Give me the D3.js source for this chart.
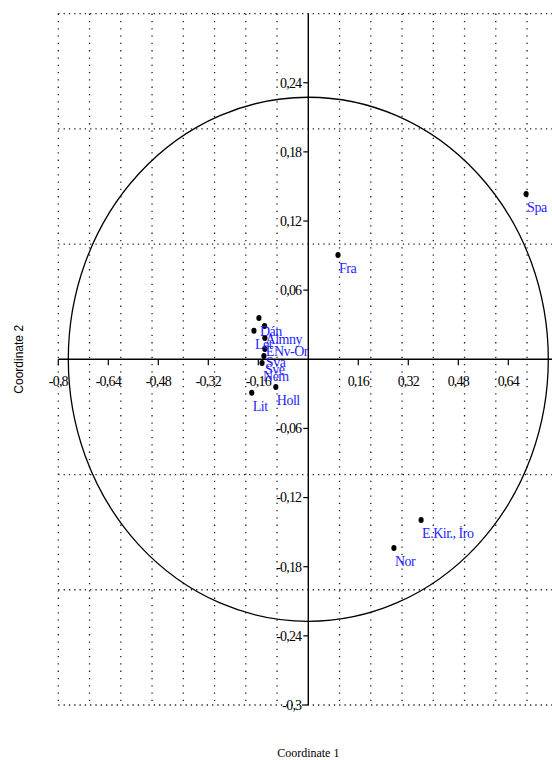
<!DOCTYPE html>
<html>
<head>
<meta charset="utf-8">
<script src="https://cdn.jsdelivr.net/npm/d3@7"></script>
<style>
  html, body { margin: 0; padding: 0; background: #fff; }
  svg { display: block; }
</style>
</head>
<body>
<svg id="chart" width="552" height="760"></svg>
<script>
// ---- data ----
const labels = ["Spa", "Fra", "E.Kir., İro", "Nor", "Dán", "Almny", "Let", "ENv-Or", "Sva", "Sve", "Nem", "Holl", "Lit"];
const coord1 = [0.697, 0.095, 0.361, 0.274, -0.158, -0.140, -0.174, -0.139, -0.139, -0.142, -0.148, -0.104, -0.181];
const coord2 = [0.1434, 0.0906, -0.1394, -0.1637, 0.0358, 0.0289, 0.0248, 0.0185, 0.0089, 0.0029, -0.0032, -0.024, -0.029];
const xTicks = [-0.8, -0.64, -0.48, -0.32, -0.16, 0.16, 0.32, 0.48, 0.64];
const yTicks = [0.24, 0.18, 0.12, 0.06, -0.06, -0.12, -0.18, -0.24, -0.3];
const xGrid = [-0.8, -0.7, -0.6, -0.5, -0.4, -0.3, -0.2, -0.1, 0.1, 0.2, 0.3, 0.4, 0.5, 0.6, 0.7];
const yGrid = [0.3, 0.2, 0.1, -0.1, -0.2, -0.3];
const ellipseRx = 0.768, ellipseRy = 0.2274;

const svg = d3.select("#chart");
const x = d3.scaleLinear().domain([-0.8, 0.8]).range([58.3, 558.3]);
const y = d3.scaleLinear().domain([-0.3, 0.3]).range([705, 13.6]);
const fmt = v => String(+v.toFixed(2)).replace(".", ",");

// grid
const g = svg.append("g");
g.selectAll("line.vg").data(xGrid).enter().append("line")
  .attr("x1", d => x(d)).attr("x2", d => x(d))
  .attr("y1", y(0.3)).attr("y2", y(-0.3))
  .attr("stroke", "#222").attr("stroke-width", 1.3).attr("stroke-dasharray", "1.3,6");
g.selectAll("line.hg").data(yGrid).enter().append("line")
  .attr("x1", x(-0.8)).attr("x2", 552)
  .attr("y1", d => y(d)).attr("y2", d => y(d))
  .attr("stroke", "#222").attr("stroke-width", 1.3).attr("stroke-dasharray", "1.3,4");

// ellipse
svg.append("ellipse")
  .attr("cx", x(0)).attr("cy", y(0))
  .attr("rx", x(ellipseRx) - x(0)).attr("ry", y(0) - y(ellipseRy))
  .attr("fill", "none").attr("stroke", "#000").attr("stroke-width", 1.3);

// axes lines
svg.append("line").attr("x1", x(-0.8)).attr("x2", 552).attr("y1", y(0)).attr("y2", y(0))
  .attr("stroke", "#000").attr("stroke-width", 1.4);
svg.append("line").attr("x1", x(0)).attr("x2", x(0)).attr("y1", y(0.3)).attr("y2", y(-0.3))
  .attr("stroke", "#000").attr("stroke-width", 1.4);

// x ticks
const xt = svg.append("g").selectAll("g").data(xTicks).enter().append("g")
  .attr("transform", d => `translate(${x(d)},${y(0)})`);
xt.append("line").attr("y1", 0).attr("y2", 6).attr("stroke", "#000").attr("stroke-width", 1.2);
xt.append("text").attr("y", 27).attr("text-anchor", "middle")
  .attr("font-family", "Liberation Serif, serif").attr("font-size", 14).attr("letter-spacing", -0.8)
  .text(d => fmt(d));

// y ticks
const yt = svg.append("g").selectAll("g").data(yTicks).enter().append("g")
  .attr("transform", d => `translate(${x(0)},${y(d)})`);
yt.append("line").attr("x1", 0).attr("x2", -5).attr("stroke", "#000").attr("stroke-width", 1.2);
yt.append("text").attr("x", -7).attr("dy", "0.35em").attr("text-anchor", "end")
  .attr("font-family", "Liberation Serif, serif").attr("font-size", 14).attr("letter-spacing", -0.8)
  .text(d => fmt(d));

// points
const pts = labels.map((l, i) => ({ l, cx: coord1[i], cy: coord2[i] }));
svg.append("g").selectAll("ellipse").data(pts).enter().append("ellipse")
  .attr("cx", d => x(d.cx)).attr("cy", d => y(d.cy)).attr("rx", 2.6).attr("ry", 3)
  .attr("fill", "#000");
svg.append("g").selectAll("text").data(pts).enter().append("text")
  .attr("x", d => x(d.cx) + 1).attr("y", d => y(d.cy) + 18)
  .attr("font-family", "Liberation Serif, serif").attr("font-size", 14).attr("letter-spacing", -0.5)
  .attr("fill", "#1f1fff")
  .text(d => d.l);

// axis titles
svg.append("text").attr("x", x(0)).attr("y", 757).attr("text-anchor", "middle")
  .attr("font-family", "Liberation Serif, serif").attr("font-size", 12).text("Coordinate 1");
svg.append("text").attr("transform", `translate(23,${y(0)}) rotate(-90)`).attr("text-anchor", "middle")
  .attr("font-family", "Liberation Sans, Arial, sans-serif").attr("font-size", 12).text("Coordinate 2");
</script>
</body>
</html>
